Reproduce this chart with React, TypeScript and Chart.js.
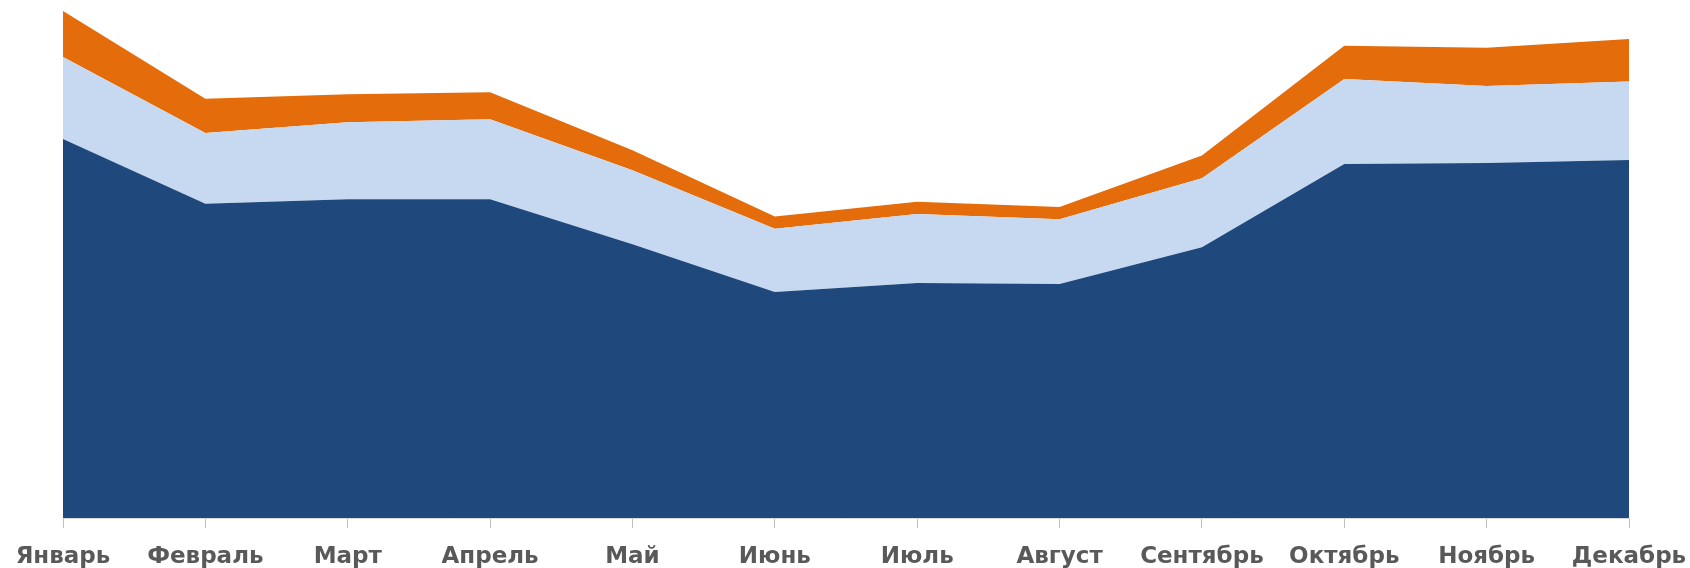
import React, { useEffect, useRef } from "react";
import { Chart, registerables } from "chart.js";

Chart.register(...registerables);

const months = [
  "Январь", "Февраль", "Март", "Апрель", "Май", "Июнь",
  "Июль", "Август", "Сентябрь", "Октябрь", "Ноябрь", "Декабрь",
];

const seriesDark = [74.3, 61.6, 62.5, 62.5, 53.7, 44.3, 46.1, 45.9, 53.1, 69.4, 69.6, 70.2];
const seriesLight = [16.1, 13.9, 15.1, 15.7, 14.5, 12.4, 13.5, 12.7, 13.5, 16.7, 15.1, 15.4];
const seriesOrange = [9.0, 6.7, 5.5, 5.3, 3.9, 2.4, 2.4, 2.4, 4.5, 6.5, 7.5, 8.3];

const yMax = 100;

export default function App() {
  const ref = useRef<HTMLCanvasElement | null>(null);

  useEffect(() => {
    if (!ref.current) return;
    const chart = new Chart(ref.current, {
      type: "line",
      data: {
        labels: months,
        datasets: [
          {
            label: "Серия 1",
            data: seriesDark,
            backgroundColor: "#1F497D",
            borderColor: "#1F497D",
            borderWidth: 0,
            pointRadius: 0,
            fill: "origin",
            tension: 0,
          },
          {
            label: "Серия 2",
            data: seriesLight,
            backgroundColor: "#C6D9F1",
            borderColor: "#C6D9F1",
            borderWidth: 0,
            pointRadius: 0,
            fill: "-1",
            tension: 0,
          },
          {
            label: "Серия 3",
            data: seriesOrange,
            backgroundColor: "#E46C0A",
            borderColor: "#E46C0A",
            borderWidth: 0,
            pointRadius: 0,
            fill: "-1",
            tension: 0,
          },
        ],
      },
      options: {
        animation: false,
        responsive: false,
        maintainAspectRatio: false,
        layout: { padding: { left: 63, right: 61, top: 8, bottom: 0 } },
        plugins: {
          legend: { display: false },
          tooltip: { enabled: false },
        },
        scales: {
          x: {
            type: "category",
            offset: false,
            afterFit: (scale: any) => {
              scale.paddingLeft = 0;
              scale.paddingRight = 0;
              scale.height = 50;
            },
            grid: {
              display: true,
              drawOnChartArea: false,
              drawTicks: true,
              tickLength: 10,
              color: "#bfbfbf",
            },
            border: { display: true, color: "#d9d9d9", width: 1 },
            ticks: {
              autoSkip: false,
              maxRotation: 0,
              minRotation: 0,
              padding: 15,
              color: "#595959",
              font: { family: "'DejaVu Sans', sans-serif", size: 23, weight: "bold", lineHeight: 1.2 },
            },
          },
          y: {
            display: false,
            stacked: true,
            min: 0,
            max: yMax,
          },
        },
      },
    });
    return () => chart.destroy();
  }, []);

  return (
    <div style={{ position: "absolute", left: 0, top: 0, width: 1690, height: 568, background: "#fff" }}>
      <canvas ref={ref} width={1690} height={568} style={{ display: "block", width: 1690, height: 568 }} />
    </div>
  );
}
